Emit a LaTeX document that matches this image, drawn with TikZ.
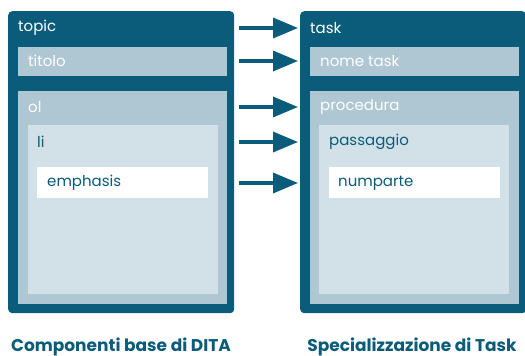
\documentclass[tikz,border=0pt]{standalone}
\usepackage{fontspec}
\setmainfont{Poppins}
\usetikzlibrary{arrows.meta}
\definecolor{ditablue}{HTML}{0A5C7A}
\definecolor{ditamid}{HTML}{AFC6D3}
\definecolor{ditalight}{HTML}{D2E1E8}
\begin{document}
\begin{tikzpicture}[x=1pt,y=-1pt,
    outer/.style={fill=ditablue,rounded corners=4pt,anchor=north west,inner sep=0},
    bar/.style={fill=ditamid,anchor=north west,inner sep=0},
    inbox/.style={fill=ditalight,anchor=north west,inner sep=0},
    leaf/.style={fill=white,anchor=north west,inner sep=0},
    lbl/.style={anchor=west,inner sep=0,font=\fontsize{15}{17}\selectfont},
    caption/.style={text=ditablue,inner sep=0,font=\fontsize{17}{20}\selectfont\bfseries},
    arr/.style={ditablue,line width=3.5pt,-{Triangle[length=25pt,width=20pt]},
      shorten <=5pt,shorten >=2pt}]
  \useasboundingbox (0,0) rectangle (525,356);
  % base DITA components
  \node[outer,minimum width=226,minimum height=302] (topic) at (8,11) {};
  \node[bar,minimum width=209,minimum height=29] (titolo) at (18,47) {};
  \node[bar,minimum width=209,minimum height=213] (ol) at (18,91) {};
  \node[inbox,minimum width=190,minimum height=169] (li) at (28,125) {};
  \node[leaf,minimum width=171,minimum height=31] (emph) at (37,167) {};
  \node[lbl,text=white] (topicl) at (18,28) {topic};
  \node[lbl,text=white] (titolol) at (28,61) {titolo};
  \node[lbl,text=white] (oll) at (28,107) {ol};
  \node[lbl,text=ditablue] (lil) at (37,142) {li};
  \node[lbl,text=ditablue] (emphl) at (47,183) {emphasis};
  % task specialization
  \node[outer,minimum width=226,minimum height=302] (task) at (300,11) {};
  \node[bar,minimum width=209,minimum height=29] (nome) at (310,47) {};
  \node[bar,minimum width=209,minimum height=213] (proc) at (310,91) {};
  \node[inbox,minimum width=190,minimum height=169] (pass) at (319,125) {};
  \node[leaf,minimum width=171,minimum height=31] (nump) at (329,167) {};
  \node[lbl,text=white] (taskl) at (310,28) {task};
  \node[lbl,text=white] (nomel) at (320,61) {nome task};
  \node[lbl,text=white] (procl) at (320,107) {procedura};
  \node[lbl,text=ditablue] (passl) at (329,142) {passaggio};
  \node[lbl,text=ditablue] (numpl) at (338,183) {numparte};
  % mappings
  \draw[arr] (topicl -| topic.east) -- (topicl -| task.west);
  \draw[arr] (titolol -| topic.east) -- (titolol -| task.west);
  \draw[arr] (oll -| topic.east) -- (oll -| task.west);
  \draw[arr] (lil -| topic.east) -- (lil -| task.west);
  \draw[arr] (emphl -| topic.east) -- (emphl -| task.west);
  % captions
  \node[caption,anchor=base] (capl) at (121,351) {Componenti base di DITA};
  \node[caption,anchor=base] (capr) at (412,351) {Specializzazione di Task};
\end{tikzpicture}
\end{document}
